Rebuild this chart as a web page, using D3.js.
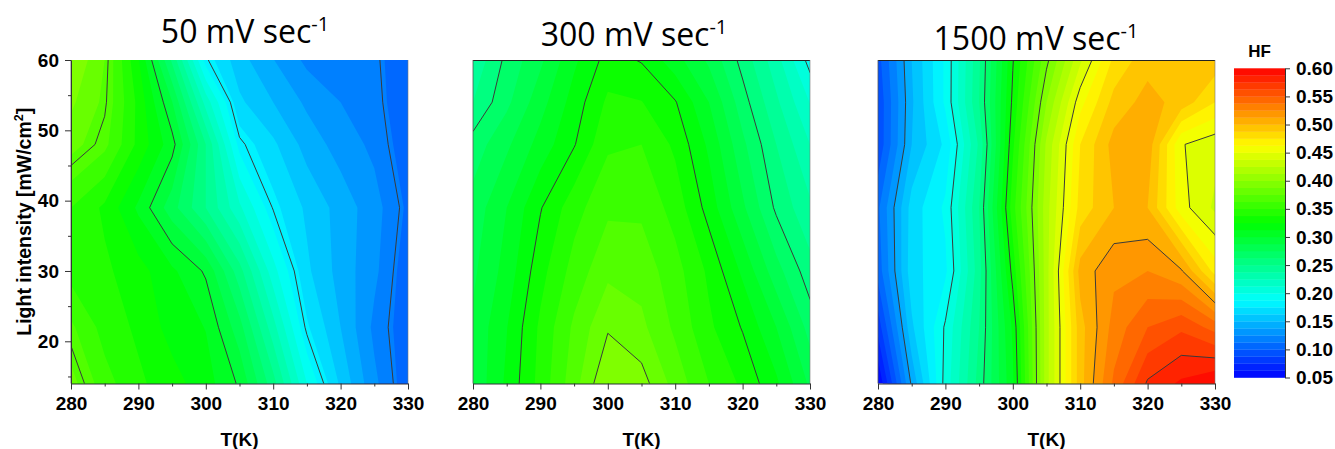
<!DOCTYPE html>
<html>
<head>
<meta charset="utf-8">
<script src="https://cdn.jsdelivr.net/npm/d3@7"></script>
<style>
  body { margin: 0; background: #fff; }
  svg { display: block; }
  .axis text, .lbl { font-family: "Liberation Sans", Arial, sans-serif; font-weight: bold; fill: #000; }
  .axis path, .axis line { stroke: #333; }
  .title { font-family: "Open Sans", sans-serif; fill: #000; }
</style>
</head>
<body>
<svg id="chart" width="1335" height="449"></svg>
<script>
// grid of the measurements: temperature columns, light intensity rows (top row first)
const temps = [280, 285, 290, 295, 300, 305, 310, 315, 320, 325, 330];
const intensities = [60, 54, 48, 39, 30, 22, 14];

// HF values
const hf50 = [
  [0.40, 0.375, 0.326, 0.26, 0.182, 0.155, 0.138, 0.122, 0.12, 0.118, 0.10],
  [0.39, 0.372, 0.334, 0.288, 0.22, 0.165, 0.15, 0.135, 0.125, 0.12, 0.10],
  [0.38, 0.366, 0.334, 0.305, 0.25, 0.183, 0.165, 0.145, 0.132, 0.122, 0.105],
  [0.35, 0.335, 0.31, 0.28, 0.25, 0.215, 0.179, 0.16, 0.145, 0.13, 0.11],
  [0.345, 0.34, 0.33, 0.315, 0.298, 0.255, 0.205, 0.165, 0.145, 0.128, 0.105],
  [0.365, 0.345, 0.335, 0.32, 0.312, 0.28, 0.23, 0.177, 0.15, 0.122, 0.105],
  [0.38, 0.355, 0.34, 0.33, 0.318, 0.298, 0.255, 0.2, 0.16, 0.128, 0.105]
];
const hf300 = [
  [0.24, 0.266, 0.285, 0.31, 0.33, 0.324, 0.305, 0.285, 0.258, 0.23, 0.195],
  [0.25, 0.272, 0.295, 0.318, 0.34, 0.338, 0.326, 0.3, 0.268, 0.24, 0.212],
  [0.268, 0.285, 0.305, 0.324, 0.348, 0.35, 0.335, 0.31, 0.278, 0.25, 0.225],
  [0.28, 0.3, 0.324, 0.345, 0.36, 0.36, 0.345, 0.32, 0.29, 0.26, 0.24],
  [0.285, 0.305, 0.333, 0.355, 0.372, 0.37, 0.355, 0.335, 0.31, 0.28, 0.255],
  [0.29, 0.312, 0.34, 0.365, 0.386, 0.378, 0.36, 0.34, 0.324, 0.3, 0.27],
  [0.29, 0.315, 0.342, 0.37, 0.4, 0.393, 0.37, 0.35, 0.335, 0.315, 0.285]
];
const hf1500 = [
  [0.095, 0.15, 0.19, 0.248, 0.324, 0.384, 0.435, 0.478, 0.495, 0.5, 0.495],
  [0.09, 0.148, 0.19, 0.25, 0.328, 0.4, 0.458, 0.492, 0.505, 0.495, 0.475],
  [0.09, 0.15, 0.178, 0.24, 0.335, 0.415, 0.475, 0.505, 0.508, 0.451, 0.442],
  [0.11, 0.168, 0.19, 0.25, 0.345, 0.42, 0.48, 0.5, 0.5, 0.455, 0.435],
  [0.105, 0.17, 0.185, 0.245, 0.33, 0.42, 0.505, 0.522, 0.525, 0.514, 0.47],
  [0.08, 0.16, 0.202, 0.25, 0.315, 0.42, 0.495, 0.53, 0.55, 0.56, 0.545],
  [0.05, 0.14, 0.205, 0.255, 0.31, 0.42, 0.495, 0.54, 0.577, 0.59, 0.6]
];

// levels where black contour lines are drawn
const lines50 = [0.115, 0.18, 0.3, 0.37];
const lines300 = [0.2, 0.2625, 0.325, 0.3875];
const lines1500 = [0.1375, 0.2, 0.2625, 0.325, 0.3875, 0.45, 0.5125, 0.575];

const xTicks = [280, 290, 300, 310, 320, 330];
const xMinor = [285, 295, 305, 315, 325];
const yTicks = [20, 30, 40, 50, 60];
const yMinor = [15, 25, 35, 45, 55];
const barTicks = [0.05, 0.10, 0.15, 0.20, 0.25, 0.30, 0.35, 0.40, 0.45, 0.50, 0.55, 0.60];
const hfMin = 0.05, hfMax = 0.6, hfStep = 0.0125;

const panels = [
  { rate: "50", values: hf50, lines: lines50, left: 71, titleX: 245, titleY: 43, yAxis: true, topLine: false },
  { rate: "300", values: hf300, lines: lines300, left: 473, titleX: 634, titleY: 46, yAxis: false, topLine: true },
  { rate: "1500", values: hf1500, lines: lines1500, left: 878, titleX: 1036, titleY: 50, yAxis: false, topLine: true }
];

const svg = d3.select("#chart");
const W = 337, plotTop = 60, plotBottom = 383.5;

const y = d3.scaleLinear().domain([14, 60]).range([plotBottom, plotTop]);
const color = d3.scaleLinear()
  .domain([0.05, 0.1875, 0.325, 0.4625, 0.6])
  .range(["#0000ff", "#00ffff", "#00ff00", "#ffff00", "#ff0000"]);
const bands = d3.range(hfMin, hfMax - 1e-9, hfStep);

// contour grid coordinates -> data coordinates (sample i sits at i + 0.5)
const gx = d3.scaleLinear().domain([0.5, temps.length - 0.5]).range([temps[0], temps[temps.length - 1]]);
const gy = d3.scaleLinear().domain(intensities.map((d, i) => i + 0.5)).range(intensities);

panels.forEach((p, k) => {
  const x = d3.scaleLinear().domain([280, 330]).range([p.left, p.left + W]);
  const proj = d3.geoTransform({
    point: function(px, py) { this.stream.point(x(gx(px)), y(gy(py))); }
  });
  const path = d3.geoPath(proj);
  const flat = p.values.flat();
  const size = [temps.length, intensities.length];

  svg.append("clipPath").attr("id", "clip" + k)
    .append("rect")
    .attr("x", p.left).attr("y", plotTop)
    .attr("width", W).attr("height", plotBottom - plotTop);

  const plot = svg.append("g").attr("clip-path", `url(#clip${k})`);

  plot.selectAll("path.band")
    .data(d3.contours().size(size).thresholds(bands)(flat))
    .join("path")
    .attr("class", "band")
    .attr("d", path)
    .attr("fill", d => color(d.value + hfStep / 2));

  plot.selectAll("path.iso")
    .data(d3.contours().size(size).thresholds(p.lines)(flat))
    .join("path")
    .attr("class", "iso")
    .attr("d", path)
    .attr("fill", "none")
    .attr("stroke", "#3a3a3a")
    .attr("stroke-width", 1);

  // frame
  if (p.topLine) {
    svg.append("line")
      .attr("x1", p.left).attr("x2", p.left + W)
      .attr("y1", plotTop + 0.5).attr("y2", plotTop + 0.5)
      .attr("stroke", "#222").attr("stroke-width", 1.2);
  }
  svg.append("line")
    .attr("x1", p.left + W).attr("x2", p.left + W)
    .attr("y1", plotTop).attr("y2", plotBottom)
    .attr("stroke", "#777").attr("stroke-width", 0.6);
  svg.append("line")
    .attr("x1", p.left).attr("x2", p.left)
    .attr("y1", plotTop).attr("y2", plotBottom)
    .attr("stroke", "#555").attr("stroke-width", 0.8);

  // x axis
  svg.append("g").attr("class", "axis")
    .attr("transform", `translate(0,${plotBottom})`)
    .call(d3.axisBottom(x).tickValues(xMinor).tickSize(3).tickFormat(""))
    .call(g => g.select(".domain").remove());
  svg.append("g").attr("class", "axis")
    .attr("transform", `translate(0,${plotBottom})`)
    .call(d3.axisBottom(x).tickValues(xTicks).tickSize(6).tickSizeOuter(0).tickPadding(7))
    .call(g => g.selectAll("text").attr("font-size", 19));

  svg.append("text").attr("class", "lbl")
    .attr("x", p.left + W / 2).attr("y", 446)
    .attr("text-anchor", "middle").attr("font-size", 19)
    .text("T(K)");

  if (p.yAxis) {
    svg.append("g").attr("class", "axis")
      .attr("transform", `translate(${p.left},0)`)
      .call(d3.axisLeft(y).tickValues(yMinor).tickSize(3).tickFormat(""))
      .call(g => g.select(".domain").remove());
    svg.append("g").attr("class", "axis")
      .attr("transform", `translate(${p.left},0)`)
      .call(d3.axisLeft(y).tickValues(yTicks).tickSize(6).tickSizeOuter(0).tickPadding(6))
      .call(g => g.selectAll("text").attr("font-size", 19));

    const yl = svg.append("text").attr("class", "lbl")
      .attr("transform", `translate(31,${(plotTop + plotBottom) / 2}) rotate(-90)`)
      .attr("text-anchor", "middle").attr("font-size", 19.5);
    yl.append("tspan").text("Light intensity [mW/cm");
    yl.append("tspan").attr("font-size", 12.5).attr("dy", -8).text("2");
    yl.append("tspan").attr("dy", 8).text("]");
  }

  const t = svg.append("text").attr("class", "title")
    .attr("x", p.titleX).attr("y", p.titleY)
    .attr("text-anchor", "middle").attr("font-size", 32);
  t.append("tspan").text(`${p.rate} mV sec`);
  t.append("tspan").attr("font-size", 20).attr("dy", -12).text("-1");
});

// colour bar
const bx = 1234, bw = 51;
const yb = d3.scaleLinear().domain([hfMin, hfMax]).range([377.5, 68.3]);
svg.append("g").selectAll("rect")
  .data(bands)
  .join("rect")
  .attr("x", bx).attr("width", bw)
  .attr("y", d => yb(d + hfStep))
  .attr("height", d => yb(d) - yb(d + hfStep) + 0.3)
  .attr("fill", d => color(d + hfStep / 2));

svg.append("g").attr("class", "axis")
  .attr("transform", `translate(${bx + bw},0)`)
  .call(d3.axisRight(yb).tickValues(barTicks).tickSize(5).tickSizeOuter(0).tickPadding(6).tickFormat(d3.format(".2f")))
  .call(g => g.selectAll("text").attr("font-size", 19));

svg.append("text").attr("class", "lbl")
  .attr("x", 1259.5).attr("y", 57)
  .attr("text-anchor", "middle").attr("font-size", 17)
  .text("HF");
</script>
</body>
</html>
